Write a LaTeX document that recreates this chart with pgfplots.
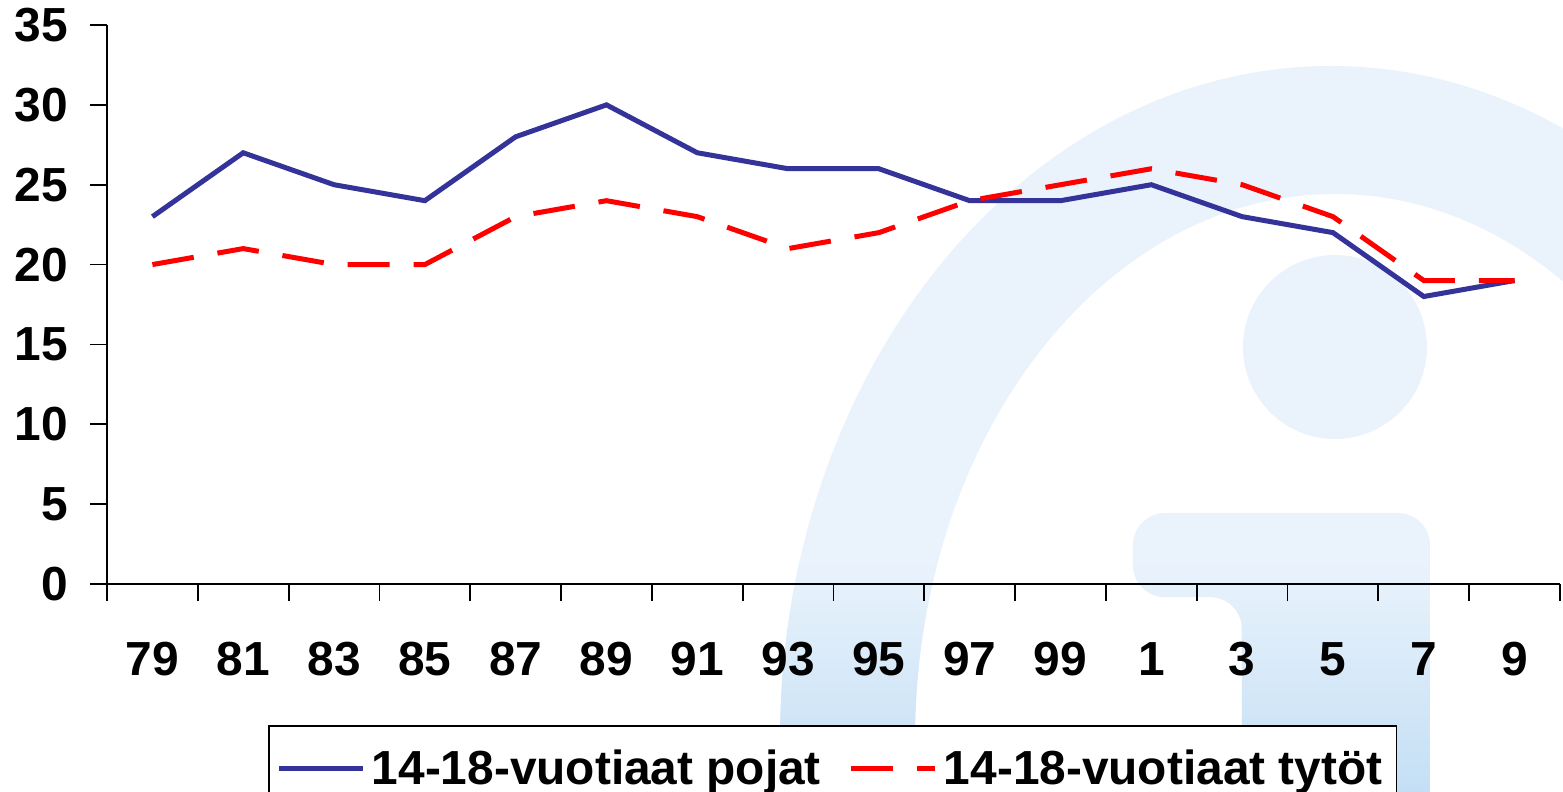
\documentclass[border=0pt]{standalone}
\usepackage{pgfplots}
\pgfplotsset{compat=1.18}
\usepackage{fontspec}
\setmainfont{Liberation Sans}
\definecolor{wm}{HTML}{EAF3FC}
\definecolor{wmdark}{HTML}{C4DFF5}
\definecolor{navy}{HTML}{333399}
\definecolor{redline}{HTML}{FF0000}
\begin{document}
\begin{tikzpicture}
\useasboundingbox (0,0) rectangle (781.5bp,396bp);
% background watermark (decoration)
\begin{scope}[x=0.5bp,y=-0.5bp,yshift=396bp]
  \begin{scope}[even odd rule, rounded corners=16bp]
    \clip
      (1331,740) ellipse [x radius=551, y radius=674]
      (1335,740) ellipse [x radius=420, y radius=546]
      (1335,347) circle [radius=92]
      (1133,597) -- (1133,513) -- (1430,513) -- (1430,820) -- (1242,820) -- (1242,597) -- cycle;
    \fill[wm, sharp corners] (0,0) rectangle (1563,792);
    \shade[top color=wm, bottom color=wmdark, sharp corners] (0,560) rectangle (1563,792);
  \end{scope}
\end{scope}
\begin{axis}[
  at={(53.5bp,104bp)}, anchor=south west,
  scale only axis, width=726.5bp, height=279.5bp,
  xmin=-0.5, xmax=15.5, ymin=0, ymax=35,
  axis lines*=left,
  axis line style={line width=0.9bp, black, -},
  tick align=outside, tick pos=left, major tick length=8.5bp,
  every tick/.style={black, line width=0.9bp},
  xtick={-0.5,0.5,1.5,2.5,3.5,4.5,5.5,6.5,7.5,8.5,9.5,10.5,11.5,12.5,13.5,14.5,15.5},
  xticklabels={79,81,83,85,87,89,91,93,95,97,99,1,3,5,7,9,{}},
  ytick={0,5,10,15,20,25,30,35},
  /pgf/number format/assume math mode=true,
  ticklabel style={font=\bfseries\fontsize{24}{28}\selectfont},
  xticklabel style={anchor=base, xshift=22.7bp, yshift=-37bp},
  yticklabel style={anchor=east, xshift=-7.5bp},
  legend style={at={(0.1108,-0.2522)}, anchor=north west, draw=black, line width=0.9bp,
    font=\bfseries\fontsize{24}{28}\selectfont, inner xsep=4bp, inner ysep=10bp,
    nodes={inner xsep=3bp, inner ysep=2bp},
    /tikz/every even column/.append style={column sep=11bp}},
  legend columns=2,
  legend image code/.code={\draw[#1] (0bp,0bp) -- (42bp,0bp);},
]
\addplot[navy, line width=2.5bp] coordinates {
 (0,23) (1,27) (2,25) (3,24) (4,28) (5,30) (6,27) (7,26) (8,26) (9,24) (10,24) (11,25) (12,23) (13,22) (14,18) (15,19)};
\addlegendentry{14-18-vuotiaat pojat}
\addplot[redline, line width=2.5bp, dash pattern=on 21bp off 12bp] coordinates {
 (0,20) (1,21) (2,20) (3,20) (4,23) (5,24) (6,23) (7,21) (8,22) (9,24) (10,25) (11,26) (12,25) (13,23) (14,19) (15,19)};
\addlegendentry{14-18-vuotiaat tytöt}
\end{axis}
\end{tikzpicture}
\end{document}
